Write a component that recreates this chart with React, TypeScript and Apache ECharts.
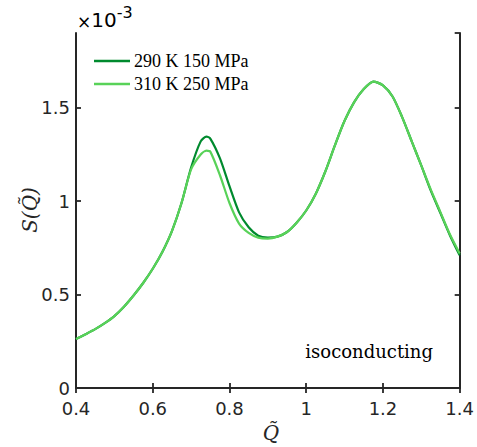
import React, { useEffect, useRef } from "react";
import * as echarts from "echarts";

const qValues = [0.4, 0.425, 0.45, 0.475, 0.5, 0.525, 0.55, 0.575, 0.6, 0.625, 0.65, 0.675, 0.7, 0.725, 0.74, 0.75, 0.775, 0.8, 0.825, 0.85, 0.875, 0.9, 0.925, 0.95, 0.975, 1.0, 1.025, 1.05, 1.075, 1.1, 1.125, 1.15, 1.175, 1.2, 1.225, 1.25, 1.275, 1.3, 1.325, 1.35, 1.375, 1.4];
const s290K150MPa = [0.262, 0.288, 0.315, 0.347, 0.385, 0.435, 0.495, 0.562, 0.638, 0.728, 0.84, 0.99, 1.18, 1.32, 1.345, 1.335, 1.23, 1.08, 0.94, 0.86, 0.815, 0.805, 0.81, 0.835, 0.885, 0.95, 1.04, 1.16, 1.3, 1.43, 1.53, 1.6, 1.64, 1.62, 1.56, 1.45, 1.32, 1.19, 1.055, 0.935, 0.815, 0.71];
const s310K250MPa = [0.262, 0.288, 0.315, 0.347, 0.385, 0.435, 0.495, 0.562, 0.638, 0.728, 0.84, 0.99, 1.17, 1.25, 1.27, 1.265, 1.14, 0.99, 0.88, 0.83, 0.805, 0.8, 0.81, 0.835, 0.885, 0.95, 1.04, 1.16, 1.3, 1.43, 1.53, 1.6, 1.64, 1.62, 1.56, 1.45, 1.32, 1.19, 1.06, 0.94, 0.82, 0.72];
const seriesNames = ["290 K 150 MPa", "310 K 250 MPa"];
const xTicks = [0.4, 0.6, 0.8, 1, 1.2, 1.4];
const yTicks = [0, 0.5, 1, 1.5];

const axisColor = "#262626";
const darkGreen = "#008a2e";
const lightGreen = "#58d258";

export default function App() {
  const ref = useRef<HTMLDivElement>(null);
  useEffect(() => {
    if (!ref.current) return;
    const chart = echarts.init(ref.current, null, { renderer: "svg" });
    const fmtX = (v: number) => {
      const hit = xTicks.find((t) => Math.abs(t - v) < 1e-6);
      return hit === undefined ? "" : String(hit);
    };
    const fmtY = (v: number) => {
      const hit = yTicks.find((t) => Math.abs(t - v) < 1e-6);
      return hit === undefined ? "" : String(hit);
    };
    const tickFont = { fontFamily: "DejaVu Sans", fontSize: 18, color: axisColor };
    const lineStyle = { color: axisColor, width: 2 };
    const tickStyle = { show: true, inside: true, length: 5, lineStyle: { color: axisColor, width: 1.8 } };
    chart.setOption({
      animation: false,
      grid: { left: 76, right: 15, top: 33, bottom: 59, containLabel: false },
      legend: {
        left: 89,
        top: 47,
        orient: "vertical",
        icon: "rect",
        itemWidth: 36,
        itemHeight: 2.6,
        itemGap: 5,
        textStyle: { fontFamily: "Liberation Serif", fontSize: 18, lineHeight: 18, color: "#000", padding: [0, 0, 0, -1] },
        data: seriesNames,
      },
      xAxis: [
        {
          type: "value",
          min: 0.4,
          max: 1.4,
          interval: 0.2,
          axisLine: { show: true, lineStyle },
          axisTick: tickStyle,
          axisLabel: { ...tickFont, margin: 11, formatter: fmtX },
          splitLine: { show: false },
        },
        {
          type: "value",
          position: "top",
          min: 0.4,
          max: 1.4,
          interval: 0.2,
          axisLine: { show: true, lineStyle },
          axisTick: tickStyle,
          axisLabel: { show: false },
          splitLine: { show: false },
        },
      ],
      yAxis: [
        {
          type: "value",
          min: 0,
          max: 1.9,
          interval: 0.5,
          axisLine: { show: true, lineStyle },
          axisTick: tickStyle,
          axisLabel: { ...tickFont, margin: 6, formatter: fmtY, showMaxLabel: false },
          splitLine: { show: false },
        },
        {
          type: "value",
          position: "right",
          min: 0,
          max: 1.9,
          interval: 0.5,
          axisLine: { show: true, lineStyle },
          axisTick: tickStyle,
          axisLabel: { show: false },
          splitLine: { show: false },
        },
      ],
      series: [
        {
          name: seriesNames[0],
          type: "line",
          data: qValues.map((q, i) => [q, s290K150MPa[i]]),
          showSymbol: false,
          symbol: "none",
          smooth: 0.25,
          lineStyle: { color: darkGreen, width: 2.2 },
          itemStyle: { color: darkGreen },
        },
        {
          name: seriesNames[1],
          type: "line",
          data: qValues.map((q, i) => [q, s310K250MPa[i]]),
          showSymbol: false,
          symbol: "none",
          smooth: 0.25,
          lineStyle: { color: lightGreen, width: 2.2 },
          itemStyle: { color: lightGreen },
        },
      ],
      graphic: [
        {
          type: "text",
          left: 77,
          top: 4,
          style: {
            text: "{a|×}{b|10}{c|-3}",
            rich: {
              a: { fontFamily: "DejaVu Sans", fontSize: 17, color: axisColor, verticalAlign: "bottom" },
              b: { fontFamily: "DejaVu Sans", fontSize: 20, color: axisColor, verticalAlign: "bottom" },
              c: { fontFamily: "DejaVu Sans", fontSize: 16, color: axisColor, verticalAlign: "top", padding: [0, 0, 10, 0] },
            },
          },
        },
        {
          type: "text",
          x: 30,
          y: 210,
          rotation: Math.PI / 2,
          style: {
            text: "S(Q\u0303)",
            fontFamily: "DejaVu Serif",
            fontStyle: "italic",
            fontSize: 20,
            fill: axisColor,
            align: "center",
            verticalAlign: "middle",
          },
        },
        {
          type: "text",
          x: 271,
          y: 433,
          style: {
            text: "Q\u0303",
            fontFamily: "DejaVu Serif",
            fontStyle: "italic",
            fontSize: 20,
            fill: axisColor,
            align: "center",
            verticalAlign: "middle",
          },
        },
        {
          type: "text",
          x: 433,
          y: 351,
          style: {
            text: "isoconducting",
            fontFamily: "DejaVu Serif",
            fontSize: 18,
            fill: "#000",
            align: "right",
            verticalAlign: "middle",
          },
        },
      ],
    });
    return () => chart.dispose();
  }, []);
  return <div ref={ref} style={{ width: 477, height: 447, position: "absolute", left: 0, top: 0 }} />;
}
